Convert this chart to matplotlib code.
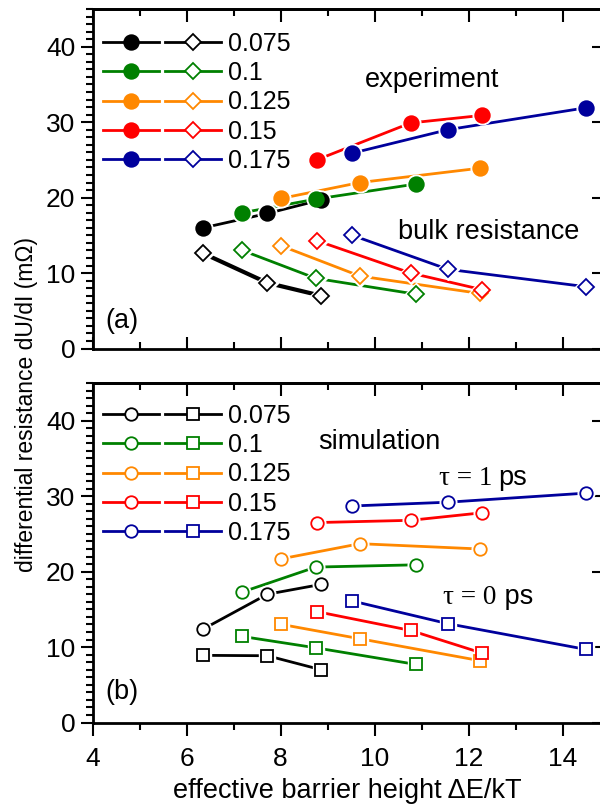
import matplotlib
matplotlib.use('Agg')
import matplotlib.pyplot as plt
from matplotlib.lines import Line2D
from matplotlib.legend_handler import HandlerTuple
from matplotlib.ticker import MultipleLocator

plt.rcParams['font.family'] = ['Liberation Sans', 'DejaVu Sans']

# series labels and colours
labels = ['0.075', '0.1', '0.125', '0.15', '0.175']
colors = ['black', '#008000', '#ff8800', '#ff0000', '#00009c']

# (a) experiment: effective barrier height and dU/dI (mOhm)
exp_x = [[6.36, 7.72, 8.86],
         [7.19, 8.75, 10.88],
         [8.02, 9.69, 12.24],
         [8.77, 10.77, 12.29],
         [9.53, 11.56, 14.49]]
exp_total = [[16.0, 17.9, 19.7],
             [18.0, 19.8, 21.8],
             [19.9, 22.0, 23.9],
             [25.0, 29.9, 30.9],
             [25.9, 29.0, 31.9]]
exp_bulk = [[12.6, 8.7, 7.0],
            [13.0, 9.3, 7.2],
            [13.6, 9.6, 7.3],
            [14.3, 10.0, 7.8],
            [15.0, 10.5, 8.2]]

# (b) simulation
sim_x = exp_x
sim_tau1 = [[12.4, 17.0, 18.3],
            [17.3, 20.6, 20.9],
            [21.7, 23.7, 23.0],
            [26.5, 26.8, 27.8],
            [28.7, 29.2, 30.4]]
sim_tau0 = [[8.9, 8.85, 7.0],
            [11.4, 9.9, 7.7],
            [13.0, 11.1, 8.2],
            [14.7, 12.2, 9.2],
            [16.1, 13.1, 9.7]]

fig = plt.figure(figsize=(6, 8.09), dpi=100)
W, H = 600, 809
left, right = 92.5, 602
ax1 = fig.add_axes([left / W, 1 - 348.5 / H, (right - left) / W, 339.5 / H])
ax2 = fig.add_axes([left / W, 1 - 722.5 / H, (right - left) / W, 339.5 / H])


def draw_series(ax, x, y, c, marker, ms, filled, lw):
    ax.plot(x, y, '-', color=c, lw=lw, zorder=2)
    # white halo gives the small gap between line and marker
    ax.plot(x, y, ls='none', marker=marker, ms=ms + 3, mfc='white',
            mec='white', zorder=3)
    ax.plot(x, y, ls='none', marker=marker, ms=ms,
            mfc=c if filled else 'white', mec=c, mew=1.3, zorder=4)


for i in range(5):
    lw_d = 3 if i == 0 else 2
    draw_series(ax1, exp_x[i], exp_total[i], colors[i], 'o', 10.5, True, 2)
    draw_series(ax1, exp_x[i], exp_bulk[i], colors[i], 'D', 8, False, lw_d)
    draw_series(ax2, sim_x[i], sim_tau1[i], colors[i], 'o', 9, False, 2)
    draw_series(ax2, sim_x[i], sim_tau0[i], colors[i], 's', 8.5, False, 2)


def make_legend(ax, m1, f1, m2, f2, s1, s2, top):
    handles = []
    for c in colors:
        h1 = Line2D([], [], color=c, lw=2, marker=m1, ms=s1,
                    mfc=c if f1 else 'white', mec=c, mew=1.3)
        h2 = Line2D([], [], color=c, lw=2, marker=m2, ms=s2,
                    mfc=c if f2 else 'white', mec=c, mew=1.3)
        handles.append((h1, h2))
    ax.legend(handles, labels, handler_map={tuple: HandlerTuple(ndivide=None, pad=0.25)},
              loc='upper left', bbox_to_anchor=(0.0, top), frameon=False,
              fontsize=18, handlelength=4.75, handletextpad=0.28,
              labelspacing=0.21, borderaxespad=0.2, borderpad=0.2, numpoints=1)


make_legend(ax1, 'o', True, 'D', False, 10.5, 8, 0.962)
make_legend(ax2, 'o', False, 's', False, 9, 8.5, 0.968)

for ax, bottom_dir in ((ax1, 'in'), (ax2, 'out')):
    ax.set_xlim(4, 4 + (right - left) / 47.0)
    ax.set_ylim(0, 45)
    ax.xaxis.set_major_locator(MultipleLocator(2))
    ax.xaxis.set_minor_locator(MultipleLocator(1))
    ax.yaxis.set_major_locator(MultipleLocator(10))
    ax.yaxis.set_minor_locator(MultipleLocator(1))
    ax.tick_params(axis='y', which='both', direction='out', left=True,
                   right=False, labelsize=19, width=1.5)
    ax.tick_params(axis='y', which='major', length=9)
    ax.tick_params(axis='y', which='minor', length=5)
    ax.tick_params(axis='x', which='both', direction=bottom_dir, top=False,
                   labelsize=19, width=1.5, pad=9)
    ax.tick_params(axis='x', which='major', length=9)
    ax.tick_params(axis='x', which='minor', length=5)
    for s in ax.spines.values():
        s.set_linewidth(2)
    sx = ax.secondary_xaxis('top')
    sx.xaxis.set_major_locator(MultipleLocator(2))
    sx.xaxis.set_minor_locator(MultipleLocator(1))
    sx.tick_params(which='both', direction='in', labeltop=False, width=1.5)
    sx.tick_params(which='major', length=9)
    sx.tick_params(which='minor', length=5)
    sx.spines['top'].set_linewidth(2)
    sy = ax.secondary_yaxis('right')
    sy.yaxis.set_major_locator(MultipleLocator(10))
    sy.yaxis.set_minor_locator(MultipleLocator(100))
    sy.tick_params(which='both', direction='in', labelright=False, width=1.5, length=7)
    sy.spines['right'].set_linewidth(2)

ax1.tick_params(axis='x', labelbottom=False)

ax1.text(11.22, 35.6, 'experiment', fontsize=19.5, ha='center', va='center')
ax1.text(12.44, 15.4, 'bulk resistance', fontsize=19.5, ha='center', va='center')
ax1.text(4.27, 3.6, '(a)', fontsize=19.5, ha='left', va='center')
ax2.text(10.1, 37.15, 'simulation', fontsize=19.5, ha='center', va='center')
# tau labels: serif symbol part, sans unit
serif = ['Liberation Serif', 'DejaVu Serif']
ax2.text(12.5, 32.4, 'τ = 1', fontsize=19.5, family=serif, ha='right', va='center')
ax2.text(12.64, 32.4, 'ps', fontsize=19.5, ha='left', va='center')
ax2.text(12.6, 16.6, 'τ = 0', fontsize=19.5, family=serif, ha='right', va='center')
ax2.text(12.6, 16.6, ' ps', fontsize=19.5, ha='left', va='center')
ax2.text(4.27, 4.1, '(b)', fontsize=19.5, ha='left', va='center')

ax2.set_xlabel('effective barrier height ΔE/kT', fontsize=19.5, labelpad=5)
fig.text(0.045, 1 - 405 / H, 'differential resistance dU/dI (mΩ)', fontsize=16.5,
         rotation=90, ha='center', va='center')

fig.savefig('out.png', dpi=100)
